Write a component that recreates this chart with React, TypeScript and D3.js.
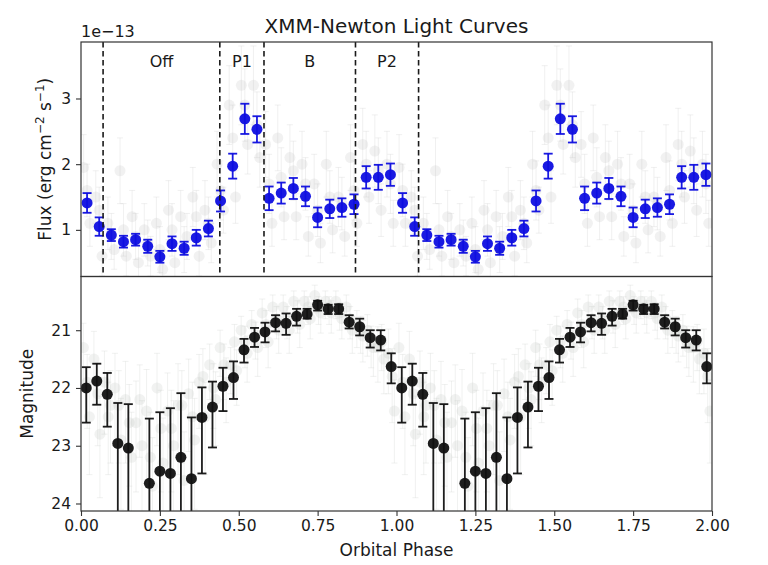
import * as d3 from "d3";
import { useEffect, useRef } from "react";

// phase-folded light curves, drawn over two cycles
const cycles = [0, 1];
const xTicks = [0, 0.25, 0.5, 0.75, 1, 1.25, 1.5, 1.75, 2];
const fluxTicks = [1, 2, 3];
const magTicks = [21, 22, 23, 24];
const regionEdges = [0.07, 0.44, 0.58, 0.87, 1.07];
const regionLabels = ["Off", "P1", "B", "P2"];

// X-ray flux (1e-13 erg cm^-2 s^-1), 26 phase bins
const flux = [1.41, 1.05, 0.92, 0.82, 0.85, 0.75, 0.59, 0.79, 0.72, 0.88, 1.02, 1.44, 1.97, 2.69, 2.53, 1.48, 1.56, 1.63, 1.51, 1.19, 1.32, 1.34, 1.39, 1.8, 1.8, 1.84];
const fluxErr = [0.15, 0.14, 0.09, 0.09, 0.09, 0.1, 0.09, 0.11, 0.1, 0.12, 0.12, 0.16, 0.19, 0.23, 0.2, 0.18, 0.16, 0.16, 0.15, 0.15, 0.14, 0.14, 0.15, 0.17, 0.19, 0.17];

// individual observations (grey)
const grayFluxA = [1.95, 1.5, 1.1, 1.9, 1.2, 1.0, 1.1, 1.3, 1.2, 1.5, 1.3, 2.0, 2.9, 3.2, 3.2, 2.3, 2.4, 2.1, 2.0, 1.7, 2.0, 1.5, 2.1, 2.3, 2.2, 2.0];
const grayFluxErrA = [0.5, 0.4, 0.4, 0.5, 0.4, 0.4, 0.4, 0.45, 0.4, 0.45, 0.45, 0.5, 0.6, 0.6, 0.6, 0.5, 0.5, 0.5, 0.5, 0.45, 0.5, 0.45, 0.5, 0.55, 0.55, 0.5];
const grayFluxB = [1.1, 0.6, 0.7, 0.6, 0.5, 0.6, 0.4, 0.5, 0.9, 0.6, 0.8, 1.3, 1.5, 2.3, 2.1, 1.1, 1.2, 1.2, 0.9, 0.8, 1.0, 0.9, 1.1, 1.5, 1.3, 1.1];
const grayFluxErrB = [0.35, 0.3, 0.3, 0.3, 0.3, 0.3, 0.3, 0.3, 0.35, 0.3, 0.3, 0.35, 0.4, 0.45, 0.45, 0.35, 0.35, 0.35, 0.3, 0.3, 0.35, 0.3, 0.35, 0.4, 0.4, 0.35];
const grayFluxC = [1.6, 1.3, 0.9, 1.0, 0.9, 0.8, 0.7, 1.0, 0.7, 1.2, 1.1, 1.6, 2.4, 2.9, 2.6, 1.7, 1.8, 1.9, 1.7, 1.3, 1.5, 1.4, 1.6, 2.0, 1.9, 1.7];
const grayFluxErrC = [0.4, 0.35, 0.35, 0.4, 0.35, 0.35, 0.35, 0.4, 0.35, 0.4, 0.4, 0.45, 0.5, 0.55, 0.5, 0.45, 0.45, 0.45, 0.4, 0.4, 0.4, 0.4, 0.45, 0.5, 0.5, 0.45];
const grayFluxShift = [-0.011, 0.009, 0.0];

// optical magnitude, 30 phase bins (null = no detection)
const mag = [22.0, 21.88, 22.11, 22.96, 23.04, null, 23.65, 23.44, 23.48, 23.2, 23.57, 22.51, 22.33, 21.97, 21.82, 21.34, 21.12, 21.03, 20.87, 20.88, 20.76, 20.72, 20.56, 20.63, 20.63, 20.86, 20.94, 21.13, 21.17, 21.63];
const magBright = [21.64, 21.58, 21.74, 22.26, 22.28, null, 22.53, 22.42, 22.35, 22.09, 22.51, 21.99, 21.89, 21.65, 21.54, 21.15, 20.96, 20.87, 20.74, 20.71, 20.63, 20.63, 20.49, 20.56, 20.55, 20.74, 20.8, 21.0, 21.0, 21.4];
const magFaint = [22.6, 22.29, 22.67, 25, 25, null, 25, 25, 25, 25, 25, 23.48, 23.03, 22.4, 22.19, 21.56, 21.29, 21.21, 21.02, 21.08, 20.92, 20.8, 20.66, 20.72, 20.72, 20.97, 21.09, 21.3, 21.35, 21.92];

const grayMagA = [21.3, 21.5, 21.9, 22.0, 22.2, 22.6, 22.4, 22.0, 22.4, 22.3, 22.1, 21.9, 21.6, 21.3, 21.6, 21.0, 20.9, 20.7, 20.6, 20.6, 20.5, 20.5, 20.4, 20.5, 20.5, 20.6, 20.9, 21.0, 21.3, 21.4];
const grayMagErrA = [0.7, 0.8, 0.9, 1.0, 1.1, 1.2, 1.2, 1.0, 1.1, 1.2, 1.0, 0.8, 0.6, 0.5, 0.5, 0.4, 0.4, 0.4, 0.35, 0.35, 0.3, 0.3, 0.3, 0.3, 0.3, 0.35, 0.4, 0.45, 0.6, 0.7];
const grayMagB = [22.5, 22.8, 22.3, 22.9, 23.2, 23.0, 23.7, 23.3, 23.0, 23.6, 22.9, 22.5, 22.2, 21.9, 21.7, 21.4, 21.3, 21.2, 21.0, 21.0, 20.9, 20.8, 20.7, 20.7, 20.8, 21.0, 21.1, 21.3, 21.5, 22.4];
const grayMagErrB = [1.0, 1.1, 1.0, 1.2, 1.3, 1.3, 1.4, 1.3, 1.3, 1.4, 1.2, 1.0, 0.8, 0.7, 0.6, 0.5, 0.5, 0.45, 0.4, 0.4, 0.4, 0.35, 0.35, 0.35, 0.35, 0.4, 0.45, 0.5, 0.6, 0.9];
const grayMagC = [21.9, 22.1, 22.5, 22.3, 22.6, 22.2, 23.2, 22.7, 22.7, 22.3, 22.5, 21.8, 22.0, 21.6, 21.2, 21.2, 21.1, 20.9, 20.8, 20.8, 20.7, 20.6, 20.6, 20.6, 20.7, 20.8, 21.0, 21.2, 21.2, 21.8];
const grayMagErrC = [0.8, 0.9, 1.0, 1.0, 1.1, 1.0, 1.3, 1.1, 1.1, 1.0, 1.0, 0.8, 0.7, 0.6, 0.5, 0.45, 0.4, 0.4, 0.35, 0.35, 0.35, 0.3, 0.3, 0.3, 0.3, 0.35, 0.4, 0.45, 0.5, 0.8];
const grayMagShift = [-0.009, 0.01, 0.003];

const TEXT = "#1a1a1a";
const FONT = "DejaVu Sans, sans-serif";

export default function App() {
    const ref = useRef(null);

    const width = 768,
        height = 565;
    const left = 81,
        right = 712,
        top = 42,
        mid = 276.5,
        bottom = 511;

    useEffect(() => {
        const svg = d3.select(ref.current);
        svg.selectAll("*").remove();

        const x = d3.scaleLinear().domain([0, 2]).range([left, right]);
        const yFlux = d3.scaleLinear().domain([0.29, 3.86]).range([mid, top]);
        const yMag = d3.scaleLinear().domain([20.07, 24.13]).range([mid, bottom]);

        svg.append("rect").attr("width", width).attr("height", height).attr("fill", "white");

        const defs = svg.append("defs");
        defs.append("clipPath").attr("id", "clipTop")
            .append("rect").attr("x", left).attr("y", top).attr("width", right - left).attr("height", mid - top);
        defs.append("clipPath").attr("id", "clipBot")
            .append("rect").attr("x", left).attr("y", mid).attr("width", right - left).attr("height", bottom - mid);

        const gTop = svg.append("g").attr("clip-path", "url(#clipTop)");
        const gBot = svg.append("g").attr("clip-path", "url(#clipBot)");

        // draws error bars + markers; points = [phase, value, lo, hi]
        function errorbar(g, pts, xs, ys, opts) {
            const cap = opts.cap;
            pts.forEach(([p, v, lo, hi]) => {
                const cx = xs(p);
                g.append("line")
                    .attr("x1", cx).attr("x2", cx)
                    .attr("y1", ys(lo)).attr("y2", ys(hi))
                    .attr("stroke", opts.color)
                    .attr("stroke-width", opts.lw)
                    .attr("opacity", opts.opacity);
                if (cap > 0) {
                    [lo, hi].forEach(e => {
                        g.append("line")
                            .attr("x1", cx - cap).attr("x2", cx + cap)
                            .attr("y1", ys(e)).attr("y2", ys(e))
                            .attr("stroke", opts.color)
                            .attr("stroke-width", opts.lw)
                            .attr("opacity", opts.opacity);
                    });
                }
            });
            g.selectAll(null)
                .data(pts)
                .join("circle")
                .attr("cx", d => xs(d[0]))
                .attr("cy", d => ys(d[1]))
                .attr("r", opts.r)
                .attr("fill", opts.color)
                .attr("opacity", opts.opacity);
        }

        // ---- top panel: X-ray ----
        const nX = flux.length;
        const grayFlux = [
            [grayFluxA, grayFluxErrA],
            [grayFluxB, grayFluxErrB],
            [grayFluxC, grayFluxErrC],
        ];
        grayFlux.forEach(([vals, errs], k) => {
            const pts = [];
            cycles.forEach(c => vals.forEach((v, i) => {
                pts.push([c + (i + 0.5) / nX + grayFluxShift[k], v, v - errs[i], v + errs[i]]);
            }));
            errorbar(gTop, pts, x, yFlux, { color: "#c0c0c0", opacity: 0.22, lw: 1, r: 5.5, cap: 3 });
        });

        regionEdges.forEach(e => {
            svg.append("line")
                .attr("x1", x(e)).attr("x2", x(e))
                .attr("y1", top).attr("y2", mid)
                .attr("stroke", "#1a1a1a")
                .attr("stroke-width", 1.6)
                .attr("stroke-dasharray", "5.5,3.5");
        });
        regionLabels.forEach((lab, i) => {
            svg.append("text")
                .attr("x", x((regionEdges[i] + regionEdges[i + 1]) / 2))
                .attr("y", 67)
                .attr("text-anchor", "middle")
                .attr("font-family", FONT)
                .attr("font-size", 16)
                .attr("fill", TEXT)
                .text(lab);
        });

        const fluxPts = [];
        cycles.forEach(c => flux.forEach((v, i) => {
            fluxPts.push([c + (i + 0.5) / nX, v, v - fluxErr[i], v + fluxErr[i]]);
        }));
        errorbar(gTop, fluxPts, x, yFlux, { color: "#0e0ee0", opacity: 0.95, lw: 1.8, r: 5.5, cap: 4.5 });

        // ---- bottom panel: optical ----
        const nO = mag.length;
        const grayMag = [
            [grayMagA, grayMagErrA],
            [grayMagB, grayMagErrB],
            [grayMagC, grayMagErrC],
        ];
        grayMag.forEach(([vals, errs], k) => {
            const pts = [];
            cycles.forEach(c => vals.forEach((v, i) => {
                pts.push([c + (i + 0.5) / nO + grayMagShift[k], v, v - errs[i] * 0.6, v + errs[i]]);
            }));
            errorbar(gBot, pts, x, yMag, { color: "#c8ccc8", opacity: 0.25, lw: 1, r: 5.5, cap: 3 });
        });

        const magPts = [];
        cycles.forEach(c => mag.forEach((v, i) => {
            if (v === null) return;
            magPts.push([c + (i + 0.5) / nO, v, magBright[i], magFaint[i]]);
        }));
        errorbar(gBot, magPts, x, yMag, { color: "#111111", opacity: 0.95, lw: 1.8, r: 5.5, cap: 4.5 });

        // ---- frames ----
        [[top, mid], [mid, bottom]].forEach(([a, b]) => {
            svg.append("rect")
                .attr("x", left).attr("y", a)
                .attr("width", right - left).attr("height", b - a)
                .attr("fill", "none")
                .attr("stroke", "#333")
                .attr("stroke-width", 1.2);
        });

        // ---- axes ----
        const styleAxis = (g) => {
            g.select(".domain").remove();
            g.selectAll("line").attr("stroke", "#333").attr("stroke-width", 1.1);
            g.selectAll("text").attr("font-family", FONT).attr("font-size", 15.5).attr("fill", TEXT);
        };

        svg.append("g")
            .attr("transform", `translate(0,${bottom})`)
            .call(d3.axisBottom(x).tickValues(xTicks).tickFormat(d3.format(".2f")).tickSize(5).tickPadding(4))
            .call(styleAxis);

        svg.append("g")
            .attr("transform", `translate(${left},0)`)
            .call(d3.axisLeft(yFlux).tickValues(fluxTicks).tickFormat(d3.format("d")).tickSize(5).tickPadding(5))
            .call(styleAxis);

        svg.append("g")
            .attr("transform", `translate(${left},0)`)
            .call(d3.axisLeft(yMag).tickValues(magTicks).tickFormat(d3.format("d")).tickSize(5).tickPadding(5))
            .call(styleAxis);

        // ---- labels ----
        svg.append("text")
            .attr("x", left)
            .attr("y", 37)
            .attr("font-family", FONT)
            .attr("font-size", 16)
            .attr("fill", TEXT)
            .text("1e\u221213");

        svg.append("text")
            .attr("x", (left + right) / 2)
            .attr("y", 33)
            .attr("text-anchor", "middle")
            .attr("font-family", FONT)
            .attr("font-size", 20)
            .attr("fill", TEXT)
            .text("XMM-Newton Light Curves");

        svg.append("text")
            .attr("x", (left + right) / 2)
            .attr("y", 556)
            .attr("text-anchor", "middle")
            .attr("font-family", FONT)
            .attr("font-size", 17)
            .attr("fill", TEXT)
            .text("Orbital Phase");

        svg.append("text")
            .attr("transform", `translate(33,${(mid + bottom) / 2}) rotate(-90)`)
            .attr("text-anchor", "middle")
            .attr("font-family", FONT)
            .attr("font-size", 17)
            .attr("fill", TEXT)
            .text("Magnitude");

        const fl = svg.append("text")
            .attr("transform", `translate(51,${(top + mid) / 2}) rotate(-90)`)
            .attr("text-anchor", "middle")
            .attr("font-family", FONT)
            .attr("font-size", 17)
            .attr("fill", TEXT);
        fl.append("tspan").text("Flux (erg cm");
        fl.append("tspan").attr("dy", -7).attr("font-size", 12).text("\u22122");
        fl.append("tspan").attr("dy", 7).text(" s");
        fl.append("tspan").attr("dy", -7).attr("font-size", 12).text("\u22121");
        fl.append("tspan").attr("dy", 7).text(")");
    }, []);

    return (
        <div style={{ position: "absolute", left: 0, top: 0 }}>
            <svg ref={ref} width={width} height={height}></svg>
        </div>
    );
}
